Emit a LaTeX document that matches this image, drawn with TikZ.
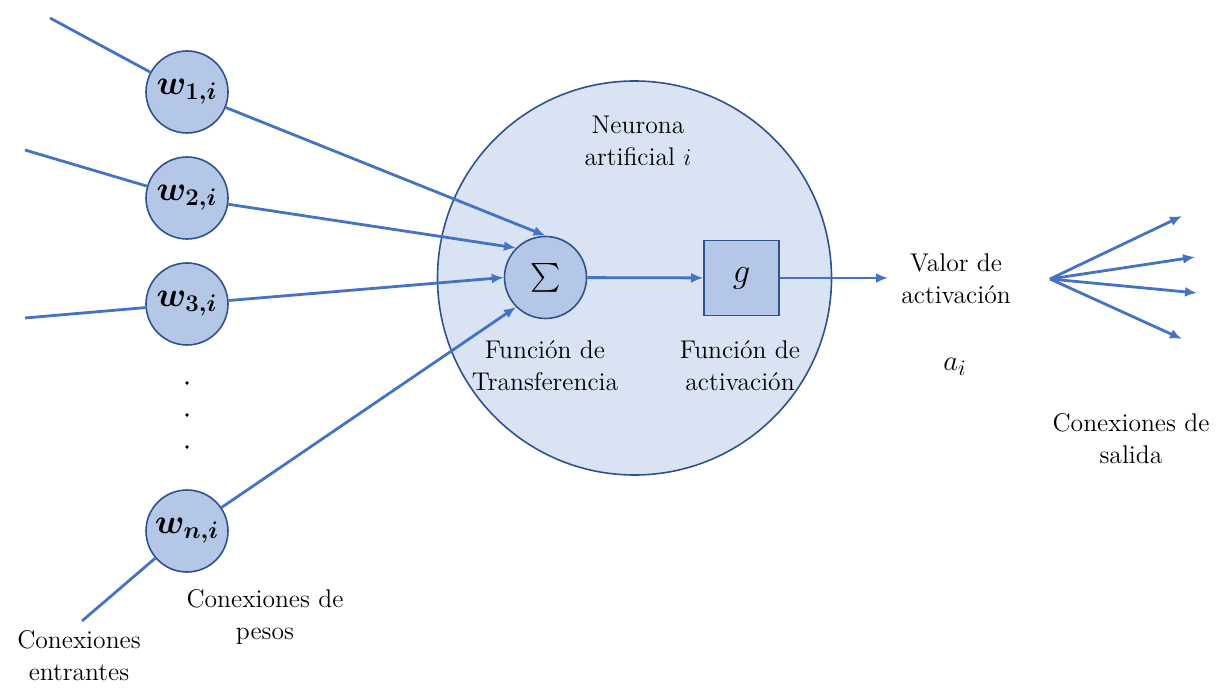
\documentclass[tikz,border=0pt]{standalone}
\usepackage{amsmath,bm}
\usetikzlibrary{arrows.meta}
\definecolor{lineblue}{HTML}{4472C4}
\definecolor{edgeblue}{HTML}{2F528F}
\definecolor{wfill}{HTML}{B4C7E7}
\definecolor{cellfill}{HTML}{DAE3F3}
\tikzset{
  weight/.style={circle,draw=edgeblue,fill=wfill,line width=0.8pt,minimum size=41pt,inner sep=0pt,font=\fontsize{17}{19}\selectfont},
  link/.style={draw=lineblue,line width=1.4pt},
  arr/.style={link,-{Latex[length=6pt,width=5pt]}},
  lbl/.style={align=center,font=\fontsize{12.8}{16}\selectfont,inner sep=0pt},
}
\begin{document}
\begin{tikzpicture}[x=0.5pt,y=-0.5pt]
      \useasboundingbox (0,0) rectangle (1224,699);
      % neurona
      \node[circle,draw=edgeblue,fill=cellfill,line width=0.8pt,minimum size=197pt] (neuron) at (634.5,278) {};
      \node[lbl] (title) at (638,141) {Neurona\\artificial $i$};
      \node[weight,font=\fontsize{15}{17}\selectfont] (sum) at (545.5,277.5) {$\textstyle\sum$};
      \node[draw=edgeblue,fill=wfill,line width=0.8pt,minimum size=37.5pt,inner sep=0pt,font=\fontsize{16}{18}\selectfont] (g) at (741.5,278) {$g$};
      \node[lbl] (transf) at (545,366) {Función de\\Transferencia};
      \node[lbl] (activ) at (740,366) {Función de\\activación};
      % pesos
      \node[weight] (w1) at (187,92) {$\bm{w_{1,i}}$};
      \node[weight] (w2) at (187,198) {$\bm{w_{2,i}}$};
      \node[weight] (w3) at (187,304) {$\bm{w_{3,i}}$};
      \node[weight] (wn) at (187,531) {$\bm{w_{n,i}}$};
      \foreach \y in {383,415,447}
        \fill (187,\y) circle (0.9pt);
      % entradas
      \coordinate (in1) at (50,18);
      \coordinate (in2) at (25,150);
      \coordinate (in3) at (25,318);
      \coordinate (inn) at (82,621);
      \draw[link] (in1) -- (w1);
      \draw[link] (in2) -- (w2);
      \draw[link] (in3) -- (w3);
      \draw[link] (inn) -- (wn);
      \draw[arr] (w1) -- (sum.north);
      \draw[arr] (w2) -- (sum.135);
      \draw[arr] (w3) -- (sum.west);
      \draw[arr] (wn) -- (sum.225);
      \draw[arr] (sum) -- (g);
      \coordinate (out) at (888,278);
      \draw[arr] (g) -- (out);
      \node[lbl] (valor) at (956,279) {Valor de\\activación};
      \node[font=\fontsize{15}{17}\selectfont,inner sep=0pt] (ai) at (955,367) {$a_i$};
      % salidas
      \coordinate (fan) at (1050,279);
      \coordinate (o1) at (1182,216);
      \coordinate (o2) at (1195,257);
      \coordinate (o3) at (1197,293);
      \coordinate (o4) at (1182,339);
      \foreach \o in {o1,o2,o3,o4}
        \draw[arr] (fan) -- (\o);
      \node[lbl] (salida) at (1131,439) {Conexiones de\\salida};
      \node[lbl] (pesos) at (265,617) {Conexiones de\\pesos};
      \node[lbl] (entr) at (79,656) {Conexiones\\entrantes};
\end{tikzpicture}
\end{document}
